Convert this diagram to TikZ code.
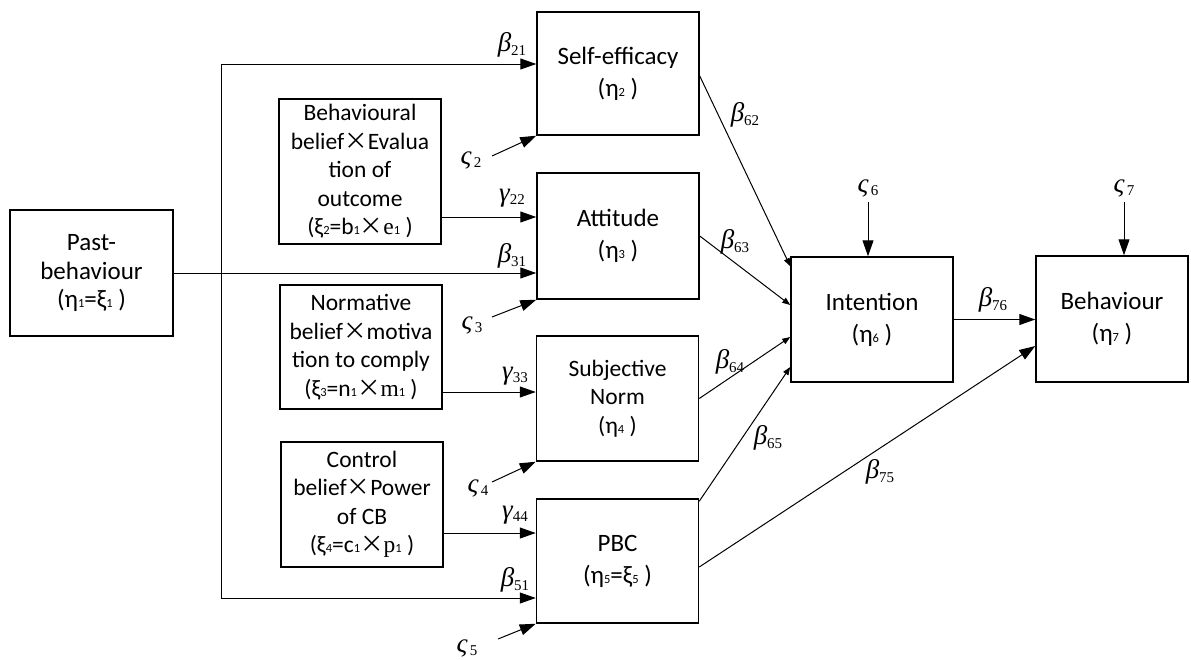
\documentclass[tikz,border=0pt]{standalone}
\usepackage{fontspec}
\setmainfont{Carlito}
\newfontfamily\tnr{Liberation Serif}
\newfontfamily\cjk{Noto Sans CJK SC}
\usetikzlibrary{arrows.meta,calc}
\newcommand{\sd}[1]{{\fontsize{12.5}{12.5}\selectfont #1}}
\newcommand{\tms}{{\cjk ×}}
\newcommand{\mylab}[2]{{\tnr\fontsize{27}{27}\selectfont\itshape #1}{\tnr\fontsize{15}{15}\selectfont\raisebox{-3.5pt}{#2}}}
\tikzset{
  box/.style={draw, line width=1.5pt, inner sep=0pt, align=center, font=\fontsize{23.5}{28.5}\selectfont},
  tbox/.style={box, font=\fontsize{25}{32}\selectfont},
  conn/.style={line width=1pt},
  arr/.style={conn, -{Triangle[length=16pt,width=11pt]}},
  sarr/.style={conn, -{Triangle[length=8pt,width=6pt]}},
  lab/.style={inner sep=0pt}
}
\begin{document}
\begin{tikzpicture}[x=1pt,y=-1pt]
\useasboundingbox (0,0) rectangle (1191,659);
% boxes
\node[box, font=\fontsize{25}{28.5}\selectfont, minimum width=163pt, minimum height=126pt] (past) at (91.5,273) {Past-\\behaviour\\(η\sd{1}=ξ\sd{1} )};
\node[tbox, minimum width=162pt, minimum height=123pt] (self) at (618,73.5) {Self-efficacy\\(η\sd{2} )};
\node[tbox, minimum width=162pt, minimum height=126pt] (att) at (618,236) {Attitude\\(η\sd{3} )};
\node[box, minimum width=162pt, minimum height=125pt] (sn) at (617.5,398.5) {Subjective\\Norm\\(η\sd{4} )};
\node[tbox, minimum width=162pt, minimum height=124pt] (pbc) at (617.5,561) {PBC\\(η\sd{5}=ξ\sd{5} )};
\node[tbox, minimum width=162pt, minimum height=125pt] (int) at (872,319.5) {Intention\\(η\sd{6} )};
\node[tbox, minimum width=152pt, minimum height=126pt] (beh) at (1112,319) {Behaviour\\(η\sd{7} )};
\node[box, minimum width=162pt, minimum height=145pt] (b1) at (360,171.5) {Behavioural\\belief\tms Evalua\\tion of\\outcome\\(ξ\sd{2}=b\sd{1}\tms{\tnr e}\sd{1} )};
\node[box, minimum width=162pt, minimum height=124pt] (b2) at (361,347) {Normative\\belief\tms motiva\\tion to comply\\(ξ\sd{3}=n\sd{1}\tms{\tnr m}\sd{1} )};
\node[box, minimum width=162pt, minimum height=125pt] (b3) at (362,504.5) {Control\\belief\tms Power\\of CB\\(ξ\sd{4}=c\sd{1}\tms{\tnr p}\sd{1} )};
% coordinates
\coordinate (jt) at (221,64);
\coordinate (jb) at (221,598);
\coordinate (y22) at (0,217);
\coordinate (y33) at (0,392);
\coordinate (y44) at (0,533);
\coordinate (z2) at (492,156);
\coordinate (z3) at (492,317);
\coordinate (z4) at (492,482);
\coordinate (z5) at (498,639);
\coordinate (z6) at (868,202);
\coordinate (z7) at (1124,202);
% connectors
\draw[conn] (jt) -- (jb);
\draw[arr] (jt) -- (self.west |- jt);
\draw[arr] (jb) -- (pbc.west |- jb);
\draw[arr] (past.east) -- (att.west |- past.east);
\draw[arr] (b1.east |- y22) -- (att.west |- y22);
\draw[arr] (b2.east |- y33) -- (sn.west |- y33);
\draw[arr] (b3.east |- y44) -- (pbc.west |- y44);
\draw[arr] (z2) -- (self.south west);
\draw[arr] (z3) -- (att.south west);
\draw[arr] (z4) -- (sn.south west);
\draw[arr] (z5) -- (pbc.south west);
\draw[arr] (z6) -- (z6 |- int.north);
\draw[arr] (z7) -- (z7 |- beh.north);
\draw[sarr] ([yshift=-2.5pt]self.east) -- ([yshift=-10pt]int.north west);
\draw[sarr] (att.east) -- ([yshift=14.5pt]int.west);
\draw[sarr] (sn.east) -- ([yshift=-17.5pt]int.west);
\draw[sarr] ([yshift=-3pt]pbc.north east) -- ([yshift=-47.5pt]int.west);
\draw[arr] ([yshift=-6pt]pbc.east) -- ([yshift=-27pt]beh.west);
\draw[arr] (int.east) -- (beh.west |- int.east);
% labels
\node[lab] (l21) at (512,45) {\mylab{β}{21}};
\node[lab] (l22) at (512,198) {\mylab{γ}{22}};
\node[lab] (l31) at (512,256) {\mylab{β}{31}};
\node[lab] (l33) at (515,376) {\mylab{γ}{33}};
\node[lab] (l44) at (515,515) {\mylab{γ}{44}};
\node[lab] (l51) at (515,580) {\mylab{β}{51}};
\node[lab] (lz2) at (471,160) {\mylab{ς}{\,2}};
\node[lab] (lz3) at (472,325) {\mylab{ς}{\,3}};
\node[lab] (lz4) at (478,488) {\mylab{ς}{\,4}};
\node[lab] (lz5) at (467,648) {\mylab{ς}{\,5}};
\node[lab] (lz6) at (868,188) {\mylab{ς}{\,6}};
\node[lab] (lz7) at (1124,188) {\mylab{ς}{\,7}};
\node[lab] (l62) at (745,115) {\mylab{β}{62}};
\node[lab] (l63) at (735,242) {\mylab{β}{63}};
\node[lab] (l64) at (730,362) {\mylab{β}{64}};
\node[lab] (l65) at (768,438) {\mylab{β}{65}};
\node[lab] (l75) at (880,472) {\mylab{β}{75}};
\node[lab] (l76) at (993,300) {\mylab{β}{76}};
\end{tikzpicture}
\end{document}
